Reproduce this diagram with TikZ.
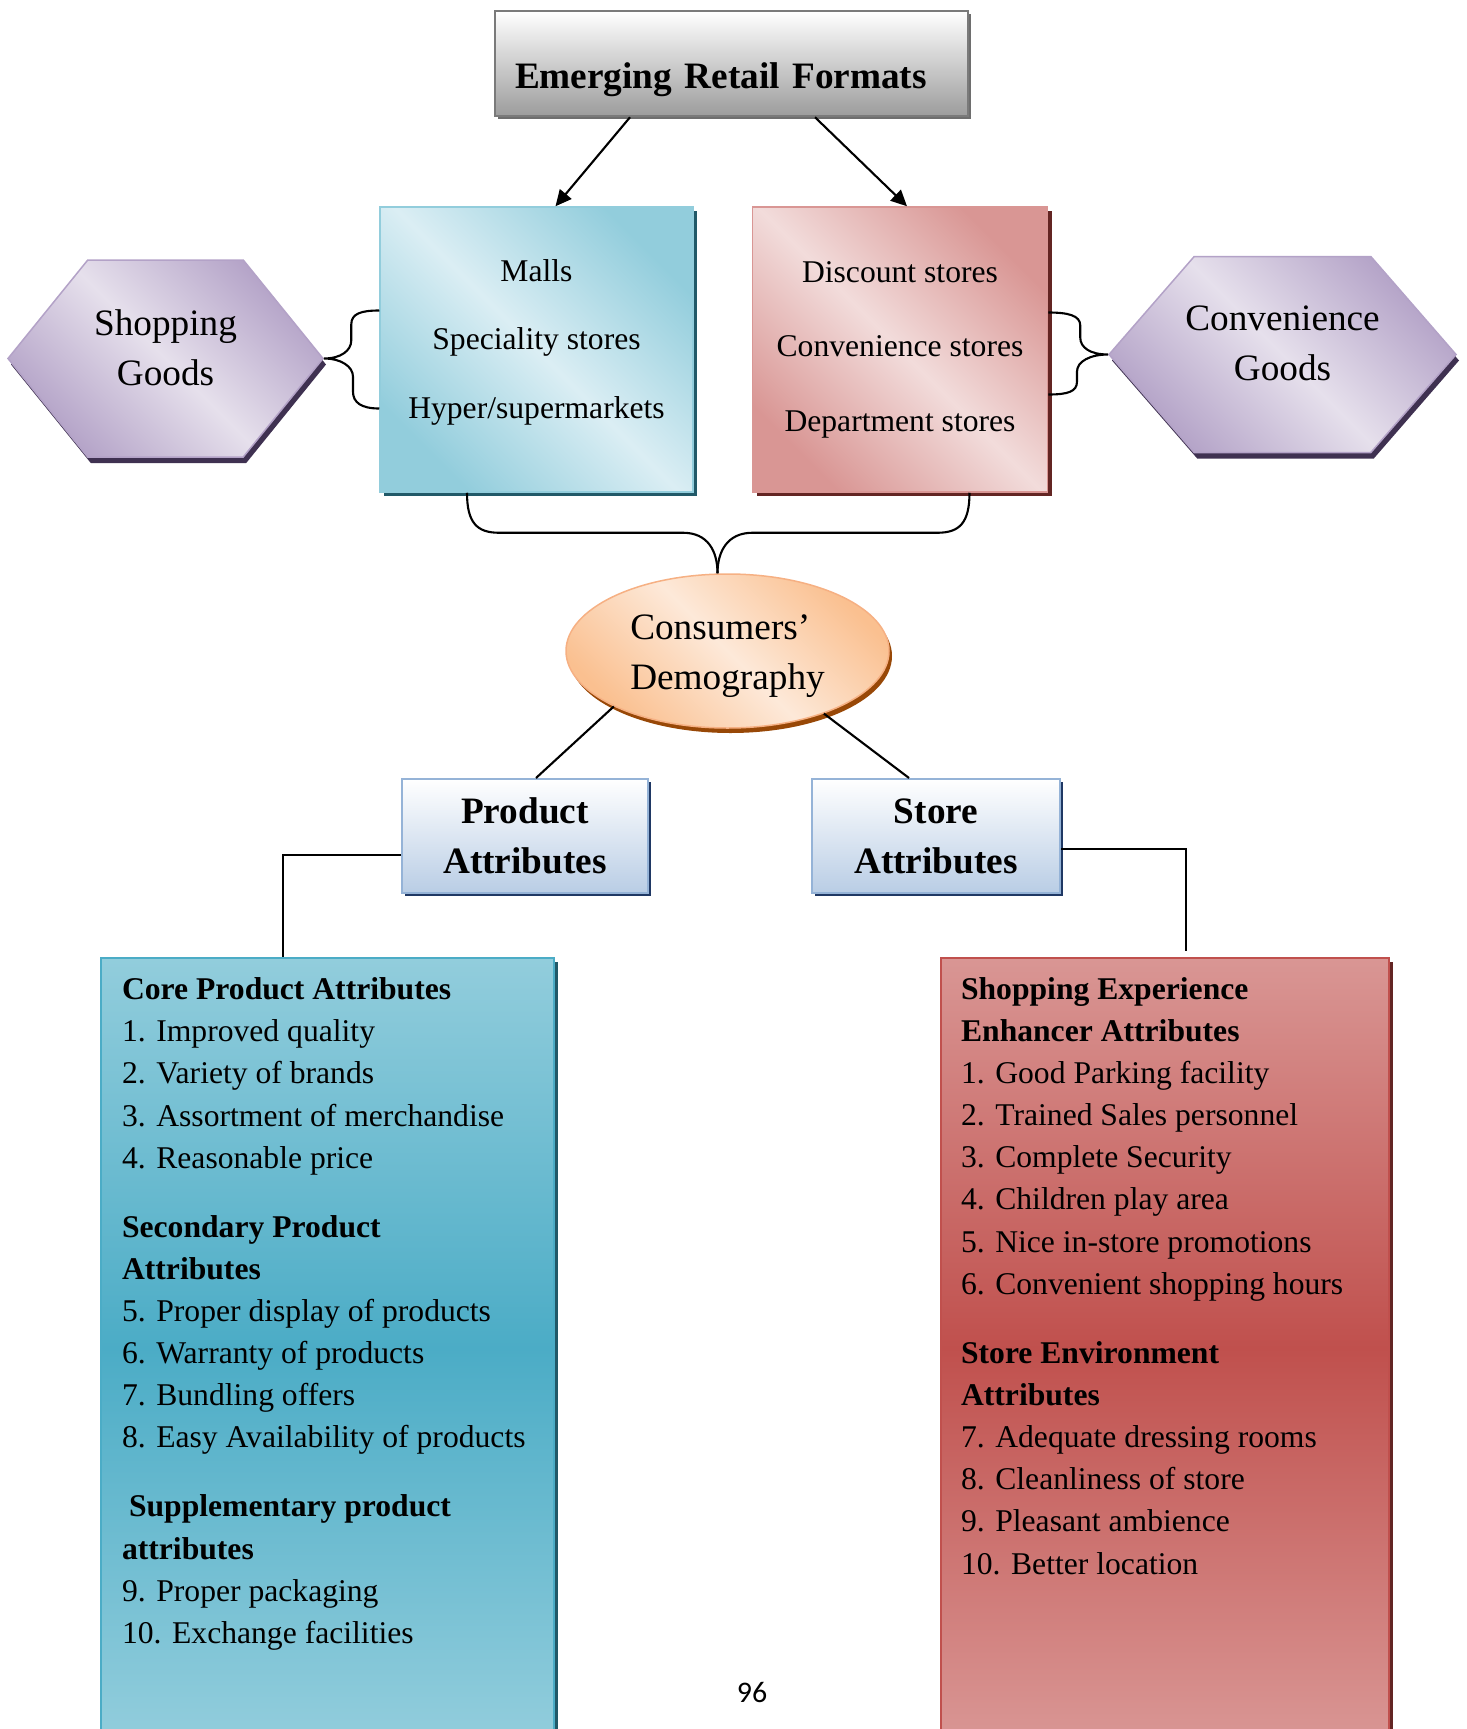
\documentclass[tikz,border=0pt]{standalone}
\usepackage{fontspec}
\setmainfont{Liberation Serif}
\newfontfamily\pgnofont{Carlito}
\usetikzlibrary{shapes,arrows.meta,shadows,positioning,calc}

\definecolor{titlegrey}{HTML}{9C9C9C}
\definecolor{titleline}{HTML}{7A7A7A}
\definecolor{titleshadow}{HTML}{6E6E6E}
\definecolor{tealdark}{HTML}{92CDDC}
\definecolor{teallight}{HTML}{DBEEF4}
\definecolor{tealmid}{HTML}{4BACC6}
\definecolor{tealshadow}{HTML}{215968}
\definecolor{rosedark}{HTML}{D99694}
\definecolor{roselight}{HTML}{F2DCDB}
\definecolor{rosemid}{HTML}{C0504D}
\definecolor{roseshadow}{HTML}{632523}
\definecolor{lilacdark}{HTML}{B3A2C7}
\definecolor{lilaclight}{HTML}{E6E0EC}
\definecolor{lilacshadow}{HTML}{3F3151}
\definecolor{peachdark}{HTML}{FAC090}
\definecolor{peachlight}{HTML}{FDE9D9}
\definecolor{peachline}{HTML}{F6B083}
\definecolor{peachshadow}{HTML}{984807}
\definecolor{skybottom}{HTML}{B9CDE5}
\definecolor{skyline}{HTML}{95B3D7}
\definecolor{skyshadow}{HTML}{1F3864}

\begin{document}
\begin{tikzpicture}[semithick,>={Triangle[length=0.16cm,width=0.15cm]}]
\tikzstyle{every node}=[font=\fontsize{9}{12}\selectfont]
\tikzstyle{bigtext}=[font=\fontsize{10.6}{14.2}\selectfont]
\tikzstyle{titlebox}=[rectangle,draw=titleline,line width=0.025cm,top color=white,bottom color=titlegrey,
  general shadow={fill=titleshadow,shadow xshift=0.03cm,shadow yshift=-0.03cm},
  font=\fontsize{10.6}{14.2}\selectfont\bfseries,text width=4.33cm,align=left,
  inner xsep=0.2cm,inner ysep=0pt,text height=0.77cm,text depth=0.28cm]
\tikzstyle{formatbox}=[rectangle,line width=0.015cm,minimum height=2.85cm,inner sep=0pt,align=center]
\tikzstyle{tealbox}=[draw=tealdark,top color=tealdark,bottom color=tealdark,middle color=teallight,shading angle=-45,
  general shadow={fill=tealshadow,shadow xshift=0.04cm,shadow yshift=-0.04cm}]
\tikzstyle{rosebox}=[draw=rosedark,top color=rosedark,bottom color=rosedark,middle color=roselight,shading angle=-45,
  general shadow={fill=roseshadow,shadow xshift=0.04cm,shadow yshift=-0.04cm}]
\tikzstyle{hexa}=[bigtext,signal,signal to=east and west,draw=lilacdark,line width=0.015cm,inner ysep=0pt,
  inner xsep=-0.25cm,align=center,
  top color=lilacdark,bottom color=lilacdark,middle color=lilaclight,shading angle=-45,
  general shadow={fill=lilacshadow,shadow xshift=0.03cm,shadow yshift=-0.06cm}]
\tikzstyle{demog}=[bigtext,ellipse,draw=peachline,line width=0.015cm,inner sep=0pt,align=left,
  minimum width=3.23cm,minimum height=1.54cm,
  top color=peachdark,bottom color=peachdark,middle color=peachlight,shading angle=-45,
  general shadow={fill=peachshadow,shadow xshift=0.03cm,shadow yshift=-0.05cm}]
\tikzstyle{attrbox}=[rectangle,draw=skyline,line width=0.02cm,top color=white,bottom color=skybottom,
  general shadow={fill=skyshadow,shadow xshift=0.03cm,shadow yshift=-0.03cm},
  font=\fontsize{10.6}{14.2}\selectfont\bfseries,align=center,minimum height=1.14cm,inner sep=0pt]
\tikzstyle{listbox}=[rectangle,line width=0.02cm,minimum height=7.8cm,inner sep=0pt]
\tikzstyle{tealist}=[draw=tealmid,top color=tealdark,bottom color=tealdark,middle color=tealmid,
  general shadow={fill=tealshadow,shadow xshift=0.035cm,shadow yshift=-0.035cm}]
\tikzstyle{roselist}=[draw=rosemid,top color=rosedark,bottom color=rosedark,middle color=rosemid,
  general shadow={fill=roseshadow,shadow xshift=0.035cm,shadow yshift=-0.035cm}]
\tikzstyle{listtext}=[align=left,inner sep=0pt,anchor=north west]

\useasboundingbox (0,0) rectangle (14.67,-17.29);

% formats
\node[titlebox] (efr) at (7.315,-0.635) {Emerging Retail Formats};
\node[formatbox,tealbox,minimum width=3.13cm,font=\fontsize{9}{19.5}\selectfont] (malls) at (5.365,-3.495)
  {Malls\\Speciality stores\\Hyper/supermarkets\rule[-0.21cm]{0pt}{0pt}};
\node[formatbox,rosebox,minimum width=2.95cm,font=\fontsize{9}{21.2}\selectfont,right=0.58cm of malls] (disc)
  {Discount stores\\Convenience stores\\Department stores};
\node[hexa,minimum width=3.15cm,minimum height=1.97cm,signal pointer angle=102] (shop) at (1.655,-3.585)
  {Shopping\\Goods\rule[-0.22cm]{0pt}{0pt}};
\node[hexa,minimum width=3.47cm,minimum height=1.96cm,signal pointer angle=98] (conv) at (12.825,-3.545)
  {Convenience\\Goods\rule[-0.22cm]{0pt}{0pt}};

% consumers
\node[demog] (cd) at (7.275,-6.51) {\rule{0pt}{0.35cm}Consumers'\\Demography};
\node[attrbox,minimum width=2.46cm] (prod) at (5.25,-8.36) {Product\\Attributes};
\node[attrbox,minimum width=2.48cm,right=1.62cm of prod] (store) {Store\\Attributes};

% attribute lists
\node[listbox,tealist,minimum width=4.53cm,anchor=north west] (plist) at (1.00,-9.57) {};
\node[listbox,roselist,minimum width=4.48cm,anchor=north west] (slist) at (9.40,-9.57) {};
\node[listtext] (ptext) at ([xshift=0.21cm,yshift=-0.195cm]plist.north west)
  {\textbf{Core Product Attributes}\\
   1. Improved quality\\
   2. Variety of brands\\
   3. Assortment of merchandise\\
   4. Reasonable price\\[7.6pt]
   \textbf{Secondary Product}\\
   \textbf{Attributes}\\
   5. Proper display of products\\
   6. Warranty of products\\
   7. Bundling offers\\
   8. Easy Availability of products\\[7.6pt]
   \hspace*{0.07cm}\textbf{Supplementary product}\\
   \textbf{attributes}\\
   9. Proper packaging\\
   10. Exchange facilities};
\node[listtext] (stext) at ([xshift=0.20cm,yshift=-0.19cm]slist.north west)
  {\textbf{Shopping Experience}\\
   \textbf{Enhancer Attributes}\\
   1. Good Parking facility\\
   2. Trained Sales personnel\\
   3. Complete Security\\
   4. Children play area\\
   5. Nice in-store promotions\\
   6. Convenient shopping hours\\[7.6pt]
   \textbf{Store Environment}\\
   \textbf{Attributes}\\
   7. Adequate dressing rooms\\
   8. Cleanliness of store\\
   9. Pleasant ambience\\
   10. Better location};

\node[font=\pgnofont\fontsize{8.5}{10}\selectfont,anchor=base] (pgno) at (7.52,-17.02) {96};

% connectors
\path[->] ([xshift=-1.015cm]efr.south) edge ([xshift=0.19cm]malls.north)
          ([xshift=0.835cm]efr.south) edge ([xshift=0.07cm]disc.north);
\draw ($(shop.east -| malls.west)+(0,0.48)$) .. controls +(-0.18,0) and +(0,0.11) .. ++(-0.28,-0.14)
  -- ++(0,-0.16) .. controls +(0,-0.1) and +(0.17,0) .. (shop.east)
  .. controls +(0.17,0) and +(0,0.1) .. ++(0.29,-0.18)
  -- ++(0,-0.15) .. controls +(0,-0.11) and +(-0.18,0) .. ($(shop.east -| malls.west)+(0,-0.50)$);
\draw ($(conv.west -| disc.east)+(0,0.42)$) .. controls +(0.2,0) and +(0,0.1) .. ++(0.32,-0.13)
  -- ++(0,-0.12) .. controls +(0,-0.1) and +(-0.18,0) .. (conv.west)
  .. controls +(-0.18,0) and +(0,0.1) .. ++(-0.31,-0.17)
  -- ++(0,-0.1) .. controls +(0,-0.1) and +(0.2,0) .. ($(conv.west -| disc.east)+(0,-0.40)$);
\draw ([xshift=-0.695cm]malls.south) .. controls +(0,-0.3) and +(-0.22,0) .. ++(0.32,-0.40)
  -- ++(1.84,0) .. controls +(0.25,0) and +(0,0.22) .. ([xshift=-0.1cm]cd.north);
\draw ([xshift=0.695cm]disc.south) .. controls +(0,-0.3) and +(0.22,0) .. ++(-0.32,-0.40)
  -- ++(-1.85,0) .. controls +(-0.25,0) and +(0,0.22) .. ([xshift=-0.1cm]cd.north);
\path (cd.206) edge ([xshift=0.11cm]prod.north)
      (cd.327) edge ([xshift=-0.27cm]store.north);
\draw ([yshift=-0.19cm]prod.west) -| ([xshift=-0.445cm]plist.north);
\draw ([yshift=-0.13cm]store.east) -| ([xshift=0.21cm,yshift=0.06cm]slist.north);
\end{tikzpicture}
\end{document}
